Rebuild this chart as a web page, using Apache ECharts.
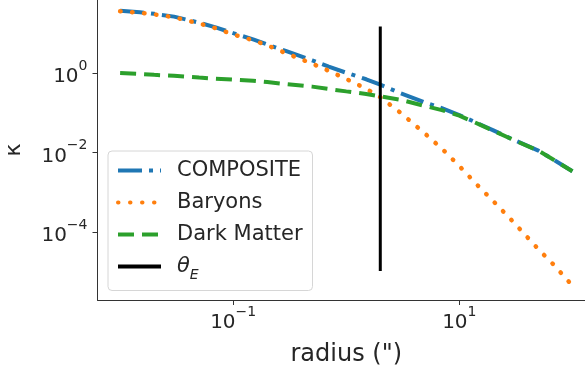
<!DOCTYPE html>
<html>
<head>
<meta charset="utf-8">
<script src="https://cdn.jsdelivr.net/npm/echarts@6/dist/echarts.min.js"></script>
<style>
  html, body { margin: 0; padding: 0; background: #fff; }
  #chart { width: 585px; height: 375px; }
</style>
</head>
<body>
<div id="chart"></div>
<script>
// Convergence profiles kappa(r) on log-log axes
const radius = [0.01, 0.015, 0.02, 0.03, 0.05, 0.07, 0.1, 0.15, 0.2, 0.3, 0.5, 0.7,
                1, 1.5, 2, 3, 5, 7, 10, 15, 20, 30, 50, 70, 100];
const compositeKappa = [37.2, 34.0, 31.0, 26.4, 18.6, 14.2, 10.1, 7.08, 5.25, 3.51, 2.09, 1.45,
                        1.02, 0.700, 0.513, 0.316, 0.182, 0.132, 0.0881, 0.0525, 0.0363, 0.0211,
                        0.0112, 0.00631, 0.00339];
const baryonKappa = [36.2, 33.0, 30.1, 25.5, 17.8, 13.5, 9.4, 6.71, 5.01, 3.08, 1.73, 1.14,
                     0.711, 0.403, 0.247, 0.102, 0.0296, 0.0126, 0.00458, 0.00136, 0.000597,
                     0.000180, 3.70e-5, 1.40e-5, 4.47e-6];
const darkMatterKappa = [1.0, 0.948, 0.904, 0.857, 0.773, 0.726, 0.684, 0.646, 0.596, 0.525, 0.457,
                         0.398, 0.347, 0.299, 0.260, 0.214, 0.148, 0.117, 0.0851, 0.0513, 0.0355,
                         0.0209, 0.0112, 0.00631, 0.00339];
// Einstein radius marker: x position and vertical extent
const thetaE = 2.0;
const thetaERange = [1.05e-5, 14.8];

const xTicks = [0.1, 10];
const yTicks = [1, 0.01, 0.0001];

const seriesNames = ['COMPOSITE', 'Baryons', 'Dark Matter', 'θE'];

function pairs(xs, ys) { return xs.map((x, i) => [x, ys[i]]); }

function powLabel(v) {
  const e = Math.round(Math.log10(v));
  const exp = e < 0 ? '\u2212' + Math.abs(e) : String(e);
  return '{b|10}{s|' + exp + '}';
}

const tickRich = {
  b: { fontSize: 20, fontFamily: 'DejaVu Sans', color: '#262626', verticalAlign: 'bottom', lineHeight: 28 },
  s: { fontSize: 14, fontFamily: 'DejaVu Sans', color: '#262626', verticalAlign: 'top', lineHeight: 28 }
};

const chart = echarts.init(document.getElementById('chart'), null, { renderer: 'canvas' });

chart.setOption({
  animation: false,
  backgroundColor: '#fff',
  // the plotting area runs a little past the right edge of the canvas
  grid: { left: 97.5, right: -10, top: 0, bottom: 75, containLabel: false, outerBoundsMode: 'none' },
  xAxis: {
    type: 'log',
    logBase: 10,
    min: Math.pow(10, -2.2),
    max: Math.pow(10, 2.2),
    name: 'radius (")',
    nameLocation: 'middle',
    nameGap: 43,
    nameTextStyle: { fontSize: 24, fontFamily: 'DejaVu Sans', color: '#262626' },
    axisLine: { show: true, onZero: false, lineStyle: { color: '#333', width: 1 } },
    axisTick: { show: true, length: 5, inside: false, customValues: xTicks, lineStyle: { color: '#333' } },
    minorTick: { show: false },
    splitLine: { show: false },
    axisLabel: {
      customValues: xTicks,
      formatter: powLabel,
      rich: tickRich,
      margin: 5,
      hideOverlap: false
    }
  },
  yAxis: {
    type: 'log',
    logBase: 10,
    min: Math.pow(10, -5.71),
    max: Math.pow(10, 1.84),
    name: 'κ',
    nameLocation: 'middle',
    nameRotate: 90,
    nameGap: 72,
    nameTextStyle: { fontSize: 22, fontFamily: 'DejaVu Sans', color: '#262626' },
    axisLine: { show: true, onZero: false, lineStyle: { color: '#333', width: 1 } },
    axisTick: { show: true, length: 5, inside: false, customValues: yTicks, lineStyle: { color: '#333' } },
    minorTick: { show: false },
    splitLine: { show: false },
    axisLabel: {
      customValues: yTicks,
      formatter: powLabel,
      rich: tickRich,
      margin: 10,
      hideOverlap: false
    }
  },
  legend: {
    orient: 'vertical',
    left: 108,
    top: 151,
    padding: [9, 10, 8, 8],
    itemWidth: 43,
    itemHeight: 20,
    itemGap: 11,
    backgroundColor: 'rgba(255,255,255,0.8)',
    borderColor: '#d6d6d6',
    borderWidth: 1,
    borderRadius: 4,
    data: seriesNames,
    itemStyle: { opacity: 0 },
    lineStyle: { width: 4 },
    textStyle: {
      fontSize: 21,
      fontFamily: 'DejaVu Sans',
      color: '#262626',
      padding: [0, 0, 0, 11],
      rich: {
        th: { fontSize: 21, fontFamily: 'DejaVu Sans', fontStyle: 'italic', color: '#262626' },
        sub: { fontSize: 14, fontFamily: 'DejaVu Sans', fontStyle: 'italic', color: '#262626', verticalAlign: 'bottom', lineHeight: 32 }
      }
    },
    formatter: function (name) {
      if (name === 'θE') return '{th|θ}{sub|E}';
      return name;
    }
  },
  series: [
    {
      name: 'COMPOSITE',
      type: 'line',
      data: pairs(radius, compositeKappa),
      showSymbol: false,
      symbol: 'none',
      z: 3,
      lineStyle: { color: '#1f77b4', width: 4, type: [24, 7, 4, 7], cap: 'butt' },
      itemStyle: { color: '#1f77b4' }
    },
    {
      name: 'Baryons',
      type: 'line',
      data: pairs(radius, baryonKappa),
      showSymbol: false,
      symbol: 'none',
      z: 4,
      lineStyle: { color: '#ff7f0e', width: 4.5, type: [0.5, 11.5], cap: 'round' },
      itemStyle: { color: '#ff7f0e' }
    },
    {
      name: 'Dark Matter',
      type: 'line',
      data: pairs(radius, darkMatterKappa),
      showSymbol: false,
      symbol: 'none',
      z: 5,
      lineStyle: { color: '#2ca02c', width: 4, type: [16, 8], cap: 'butt' },
      itemStyle: { color: '#2ca02c' }
    },
    {
      name: 'θE',
      type: 'line',
      data: [[thetaE, thetaERange[0]], [thetaE, thetaERange[1]]],
      showSymbol: false,
      symbol: 'none',
      z: 6,
      lineStyle: { color: '#000', width: 3, type: 'solid' },
      itemStyle: { color: '#000' }
    }
  ]
});
</script>
</body>
</html>
